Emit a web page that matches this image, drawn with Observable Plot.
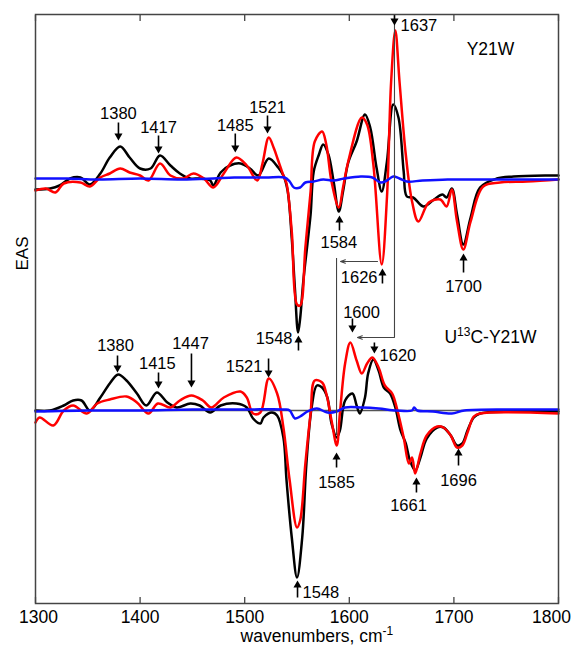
<!DOCTYPE html>
<html><head><meta charset="utf-8">
<script src="https://cdn.jsdelivr.net/npm/d3@7"></script>
<script src="https://cdn.jsdelivr.net/npm/@observablehq/plot@0.6"></script>
<style>body{margin:0;background:#fff}</style>
</head><body><div id="chart"></div>
<script>
// wavenumber (cm-1), EAS signal (arbitrary units, relative to each spectrum's baseline)
const upperBlack = [[1300,-11],[1314,-10],[1323,-7],[1333,0],[1343,1],[1352,-6],[1362,5],[1371,21],[1381,32],[1390,21],[1400,10],[1410,10],[1419,23],[1429,13],[1438,5],[1448,0],[1457,0],[1467,-2],[1470,-7],[1477,6],[1486,13],[1496,15],[1505,10],[1513,3],[1523,20],[1532,11],[1537,3],[1541,-12],[1545,-60],[1548,-110],[1551,-154],[1553,-140],[1556,-103],[1560,-65],[1563,-36],[1566,7],[1571,24],[1575,34],[1580,24],[1585,-3],[1590,-33],[1594,-13],[1599,16],[1607,37],[1615,64],[1620,51],[1626,11],[1631,-13],[1636,17],[1642,74],[1647,61],[1652,7],[1655,-18],[1661,-19],[1671,-28],[1681,-21],[1689,-16],[1693,-19],[1698,-10],[1703,-36],[1709,-66],[1716,-39],[1725,-9],[1741,0],[1757,2],[1789,3],[1800,3]];
const upperRed = [[1300,-12],[1310,-10],[1319,-14],[1327,-5],[1343,-4],[1352,-8],[1362,1],[1371,5],[1381,10],[1390,6],[1400,3],[1408,-2],[1419,15],[1429,3],[1441,0],[1451,5],[1461,0],[1470,-9],[1480,5],[1492,21],[1502,13],[1512,-2],[1517,15],[1523,41],[1528,30],[1532,18],[1537,3],[1540,-5],[1545,-53],[1550,-126],[1553,-127],[1558,-69],[1563,-13],[1567,37],[1574,47],[1578,34],[1583,-3],[1590,-29],[1594,-9],[1599,17],[1612,61],[1617,54],[1623,14],[1631,-86],[1636,-19],[1640,97],[1644,148],[1648,97],[1654,24],[1660,-23],[1666,-43],[1676,-24],[1687,-21],[1693,-28],[1698,-11],[1703,-43],[1709,-71],[1716,-43],[1728,-8],[1744,-4],[1770,-3],[1800,-1]];
const upperBlue = [[1300,0],[1330,0],[1360,-1],[1400,0],[1440,-1],[1470,0],[1490,1],[1520,1],[1538,1],[1543,-3],[1547,-9],[1553,-9],[1558,-4],[1566,-3],[1575,-1],[1585,-2],[1595,0],[1611,2],[1622,1],[1630,-4],[1636,-2],[1642,2],[1648,0],[1655,-3],[1670,-2],[1694,-1],[1720,-1],[1760,-1],[1800,-1]];

const lowerBlack = [[1300,0],[1314,0],[1327,5],[1336,10],[1344,10],[1352,0],[1362,13],[1371,27],[1379,36],[1387,30],[1397,17],[1406,5],[1416,18],[1426,8],[1435,3],[1448,7],[1457,5],[1467,-2],[1477,5],[1492,7],[1502,3],[1508,-8],[1515,-13],[1518,-7],[1526,-2],[1531,-5],[1537,-27],[1540,-70],[1545,-127],[1550,-167],[1555,-127],[1559,-53],[1564,3],[1569,25],[1574,23],[1579,13],[1583,-13],[1588,-27],[1591,-20],[1596,10],[1603,17],[1607,5],[1610,-3],[1615,13],[1618,37],[1623,51],[1628,40],[1633,23],[1639,17],[1644,3],[1649,-20],[1654,-33],[1658,-50],[1663,-60],[1668,-47],[1674,-28],[1684,-17],[1690,-17],[1697,-25],[1703,-35],[1708,-33],[1713,-20],[1719,-7],[1725,-3],[1757,-1],[1800,-1]];
const lowerRed = [[1300,-12],[1304,-7],[1317,-15],[1327,0],[1336,5],[1349,-3],[1359,7],[1371,11],[1387,14],[1397,8],[1408,-3],[1417,7],[1429,3],[1438,10],[1449,15],[1460,10],[1468,3],[1480,13],[1496,19],[1502,13],[1508,-3],[1515,-2],[1523,32],[1531,17],[1537,-17],[1543,-70],[1550,-117],[1553,-110],[1558,-53],[1563,-3],[1567,30],[1574,28],[1578,17],[1583,-10],[1588,-35],[1591,-3],[1596,47],[1601,68],[1607,50],[1612,37],[1617,47],[1622,53],[1628,43],[1634,25],[1641,17],[1646,0],[1652,-27],[1657,-53],[1660,-47],[1663,-63],[1668,-43],[1674,-25],[1684,-16],[1690,-17],[1697,-25],[1703,-37],[1708,-35],[1713,-22],[1719,-6],[1725,-3],[1800,-3]];
const lowerBlue = [[1300,-1],[1350,0],[1400,0],[1450,1],[1500,1],[1538,1],[1543,0],[1548,-8],[1553,-6],[1560,-1],[1569,2],[1579,-2],[1588,-1],[1596,3],[1612,3],[1628,2],[1645,0],[1660,0],[1662,3],[1665,0],[1680,-1],[1698,-3],[1710,0],[1757,1],[1800,1]];

const upperOffset = 232;
const lowerOffset = 0;

const xTicks = [1300, 1400, 1500, 1600, 1700, 1800];
const panelLabels = [
  {text: "Y21W", x: 1735, y: 361},
  {text: "U13C-Y21W", x: 1735, y: 73}
];

// peak annotations: label, arrow x, arrow tail/tip, label position, label anchor
const annotations = [
  {label: "1380", x: 1379.3, tail: 288, tip: 270, lx: 1379.3, ly: 297, a: "middle"},
  {label: "1417", x: 1417.6, tail: 275, tip: 257, lx: 1417.6, ly: 283, a: "middle"},
  {label: "1485", x: 1491, tail: 277, tip: 258, lx: 1491, ly: 285, a: "middle"},
  {label: "1521", x: 1521.8, tail: 295, tip: 277, lx: 1521.8, ly: 303, a: "middle"},
  {label: "1637", x: 1643.2, tail: 396, tip: 385, lx: 1649, ly: 385, a: "start"},
  {label: "1548", x: 1551.4, tail: 60, tip: 75, lx: 1545.7, ly: 72, a: "end"},
  {label: "1584", x: 1590.6, tail: 180, tip: 195, lx: 1590, ly: 168, a: "middle"},
  {label: "1626", x: 1631.7, tail: 127, tip: 142, lx: 1627, ly: 133, a: "end"},
  {label: "1700", x: 1709.2, tail: 138, tip: 157, lx: 1709.2, ly: 124, a: "middle"},
  {label: "1380", x: 1378.4, tail: 55, tip: 38, lx: 1376.5, ly: 65, a: "middle"},
  {label: "1415", x: 1417.6, tail: 38, tip: 22, lx: 1416.5, ly: 47, a: "middle"},
  {label: "1447", x: 1449.1, tail: 57, tip: 23, lx: 1448.2, ly: 67, a: "middle"},
  {label: "1521", x: 1522.8, tail: 52, tip: 33, lx: 1517, ly: 44, a: "end"},
  {label: "1600", x: 1603, tail: 92, tip: 78, lx: 1611.7, ly: 98, a: "middle"},
  {label: "1620", x: 1624, tail: 68, tip: 57, lx: 1628.9, ly: 55, a: "start"},
  {label: "1585", x: 1587.8, tail: -57, tip: -42, lx: 1587.8, ly: -72, a: "middle"},
  {label: "1661", x: 1664.2, tail: -82, tip: -67, lx: 1656.6, ly: -95, a: "middle"},
  {label: "1696", x: 1704.4, tail: -55, tip: -38, lx: 1704.4, ly: -70, a: "middle"},
  {label: "1548", x: 1550.5, tail: -187, tip: -170, lx: 1555.3, ly: -182, a: "start"}
];

// thin connector lines showing isotope shifts
const shiftLines = [
  {x: 1643.2, y1: 396, y2: 73},
  {x: 1587.8, y1: 152, y2: -25}
];
const shiftArrows = [
  {x1: 1643.2, x2: 1607.8, y: 73},
  {x1: 1627, x2: 1591.6, y: 149}
];

const font = "'Liberation Sans', Arial, Helvetica, sans-serif";
const rows = (arr, off) => arr.map(([w, v]) => ({w, v: v + off}));
const curve = (arr, off, color) => Plot.line(rows(arr, off), {x: "w", y: "v", stroke: color, strokeWidth: 2.5, strokeLinejoin: "round", curve: "catmull-rom"});
const isUp = d => d.tip > d.tail;
const headR = 3;
const headOff = 2 * Math.sqrt(Math.PI * headR * headR / (Math.sqrt(3) * 3));

const chart = Plot.plot({
  width: 573, height: 648,
  marginLeft: 35, marginRight: 15, marginTop: 14, marginBottom: 45,
  style: {fontFamily: font, fontSize: "16px", color: "#000", background: "#fff"},
  x: {domain: [1300, 1800]},
  y: {domain: [-193, 396], axis: null},
  marks: [
    Plot.ruleY([lowerOffset], {stroke: "#555", strokeWidth: 1.3}),
    curve(upperBlack, upperOffset, "#000"),
    curve(upperRed, upperOffset, "#ff0000"),
    curve(upperBlue, upperOffset, "#1010ff"),
    curve(lowerBlack, lowerOffset, "#000"),
    curve(lowerRed, lowerOffset, "#ff0000"),
    curve(lowerBlue, lowerOffset, "#1010ff"),
    Plot.ruleX(shiftLines, {x: "x", y1: "y1", y2: "y2", stroke: "#444", strokeWidth: 1.1}),
    Plot.arrow(shiftArrows, {x1: "x1", x2: "x2", y1: "y", y2: "y", stroke: "#444", strokeWidth: 1.1, headLength: 7, headAngle: 40}),
    Plot.link(annotations, {x1: "x", x2: "x", y1: "tail", y2: d => d.tip + (isUp(d) ? -4 : 4), stroke: "#000", strokeWidth: 1.6}),
    Plot.dot(annotations.filter(isUp), {x: "x", y: "tip", symbol: "triangle", r: headR, fill: "#000", stroke: "none", dy: headOff}),
    Plot.dot(annotations.filter(d => !isUp(d)), {x: "x", y: "tip", symbol: "triangle", r: headR, fill: "#000", stroke: "none", rotate: 180, dy: -headOff}),
    ...["middle", "start", "end"].map(a => Plot.text(annotations.filter(d => d.a === a), {x: "lx", y: "ly", text: "label", textAnchor: a, fontSize: 16.5, fill: "#000"})),
    Plot.text(panelLabels, {x: "x", y: "y", text: "text", fontSize: 17.5, fill: "#000", className: "plab"}),
    Plot.text([{t: "EAS", y: 140}], {y: "y", text: "t", frameAnchor: "left", dx: -13, rotate: -90, fontSize: 17, fill: "#000"}),
    Plot.text([{t: "wavenumbers, cm-1", x: 1569}], {x: "x", text: "t", frameAnchor: "bottom", dy: 38.5, fontSize: 17.5, fill: "#000", className: "xlab"}),
    Plot.frame({stroke: "#444", strokeWidth: 1.5}),
    Plot.axisX({anchor: "bottom", ticks: xTicks, tickSize: -6, tickPadding: 13, tickFormat: d => String(d), fontSize: 17.5, label: null, stroke: "#444", strokeWidth: 1.3, className: "xticks"}),
    Plot.axisX({anchor: "top", ticks: xTicks, tickSize: -6, tickFormat: () => "", label: null, stroke: "#444", strokeWidth: 1.3})
  ]
});

const NS = "http://www.w3.org/2000/svg";
function tspan(txt, dy, size) {
  const t = document.createElementNS(NS, "tspan");
  if (dy) t.setAttribute("dy", dy);
  if (size) t.setAttribute("font-size", size);
  t.textContent = txt;
  return t;
}
const xl = chart.querySelector(".xlab text");
if (xl) { xl.textContent = "wavenumbers, cm"; xl.appendChild(tspan("-1", -7, 12)); }
chart.querySelectorAll(".plab text").forEach(t => {
  if (t.textContent === "U13C-Y21W") {
    t.textContent = "U";
    t.appendChild(tspan("13", -7, 12));
    t.appendChild(tspan("C-Y21W", 7, null));
  }
});
// keep the end tick labels inside the picture, as in the reference
chart.querySelectorAll("text").forEach(t => {
  if (t.textContent === "1800" && t.closest(".xticks")) t.setAttribute("dx", "-7");
  if (t.textContent === "1300" && t.closest(".xticks")) t.setAttribute("dx", "3");
});
document.getElementById("chart").appendChild(chart);
</script>
</body></html>
